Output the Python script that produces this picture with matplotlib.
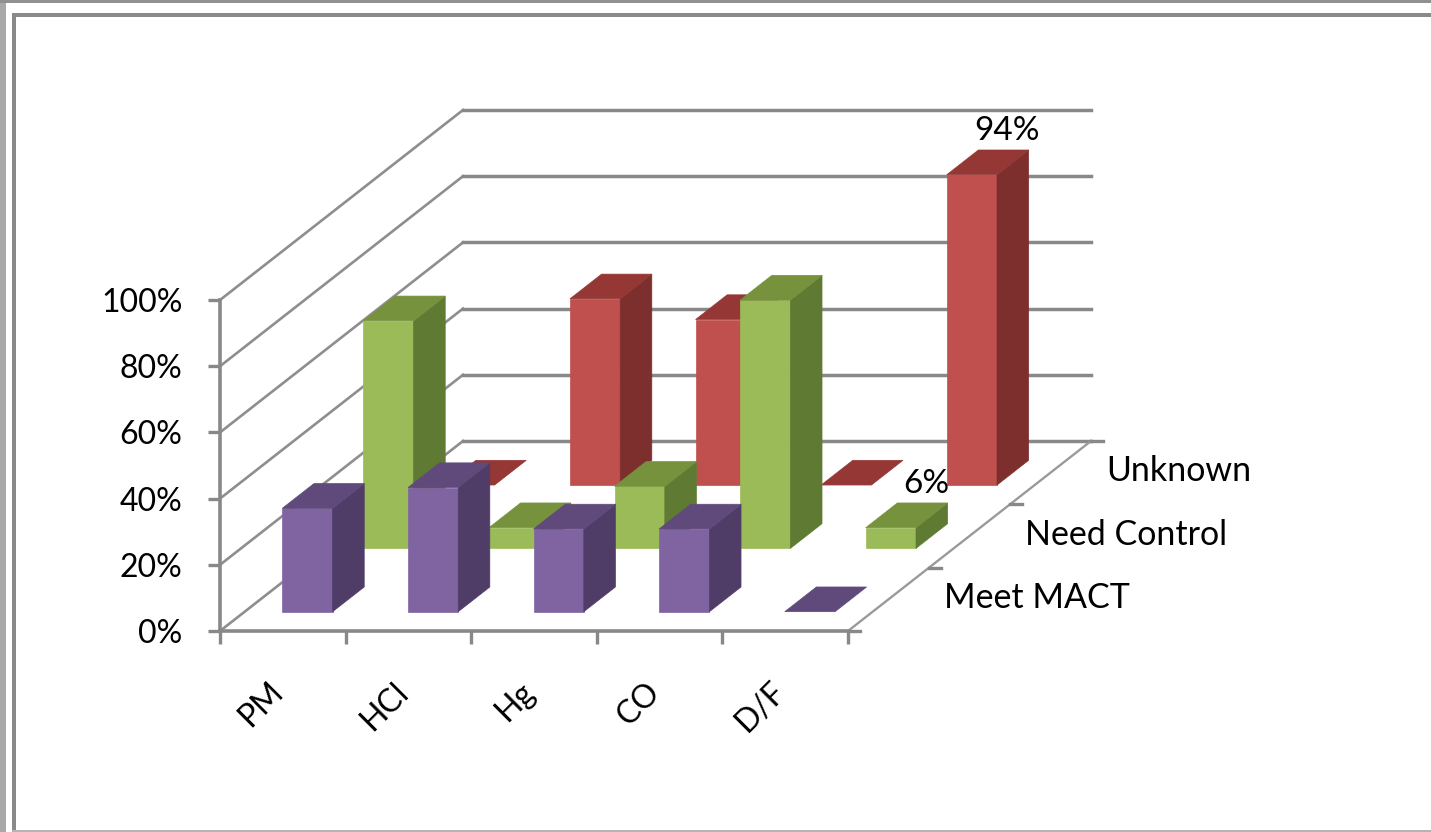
import matplotlib
matplotlib.use('Agg')
import matplotlib.pyplot as plt
import matplotlib.transforms as mtransforms
from matplotlib.patches import Rectangle

plt.rcParams['font.family'] = ['Lato', 'DejaVu Sans']

# data (share of units)
categories = ['PM', 'HCl', 'Hg', 'CO', 'D/F']
series = ['Meet MACT', 'Need Control', 'Unknown']
meet_mact = [31.25, 37.5, 25.0, 25.0, 0.0]
need_control = [68.75, 6.25, 18.75, 75.0, 6.25]
unknown = [0.0, 56.25, 50.0, 0.0, 93.75]
values = [meet_mact, need_control, unknown]
yticks = [0, 20, 40, 60, 80, 100]
# (series index, category index) -> label text
data_labels = {(1, 4): '6%', (2, 4): '94%'}

front_col = ['#8064A2', '#9BBB59', '#C0504D']
top_col = ['#604A7B', '#76923C', '#953735']
side_col = ['#4F3D68', '#5F7A33', '#7D2F2D']
GRID = '#888888'

# oblique projection set-up (pixels of the output image)
W, H = 1431, 832
X0, Y0 = 220, 631
CAT_PX = 125.6      # px per category
PCT_PX = 3.31       # px per percent
DEPTH_X = 243 / CAT_PX
DEPTH_Z = 190 / PCT_PX
BW = 0.4            # bar width (categories)
BD = 0.13           # bar depth (fraction of floor depth)


def proj(x, d, z):
    return x + d * DEPTH_X, z + d * DEPTH_Z


fig = plt.figure(figsize=(W / 100, H / 100), dpi=100)
ax = fig.add_axes([0, 0, 1, 1])
ax.set_xlim(-X0 / CAT_PX, (W - X0) / CAT_PX)
ax.set_ylim(-(H - Y0) / PCT_PX, Y0 / PCT_PX)

for s in ['top', 'right']:
    ax.spines[s].set_visible(False)
ax.spines['left'].set_position(('data', 0))
ax.spines['left'].set_bounds(0, 100)
ax.spines['bottom'].set_position(('data', 0))
ax.spines['bottom'].set_bounds(0, len(categories))
for s in ['left', 'bottom']:
    ax.spines[s].set_color(GRID)
    ax.spines[s].set_linewidth(2.6)

ax.set_yticks(yticks, [f'{v}%' for v in yticks])
ax.tick_params(axis='y', direction='out', length=9, width=2.4, color=GRID,
               pad=18, labelsize=23)
ax.set_xticks(range(len(categories) + 1), [''] * (len(categories) + 1))
ax.set_xticks([i + 0.5 for i in range(len(categories))], categories, minor=True)
ax.tick_params(axis='x', which='major', direction='out', length=9, width=2.4, color=GRID)
ax.tick_params(axis='x', which='minor', length=0, pad=33, labelsize=23)
shift = mtransforms.ScaledTranslation(6 / 100, 0, fig.dpi_scale_trans)
for lbl in ax.get_xticklabels(minor=True):
    lbl.set_rotation(45)
    lbl.set_ha('right')
    lbl.set_va('top')
    lbl.set_transform(lbl.get_transform() + shift)

# walls and floor
ncat = len(categories)
for v in yticks:
    ax.plot([0, DEPTH_X], [v, v + DEPTH_Z], color='#8e8e8e', lw=1.9, zorder=1)
    ax.plot([DEPTH_X, ncat + DEPTH_X], [v + DEPTH_Z] * 2, color=GRID, lw=2.5, zorder=1)
ax.plot([ncat, ncat + DEPTH_X], [0, DEPTH_Z], color='#9a9a9a', lw=1.7, zorder=1)
for k in range(len(series) + 1):
    xd, zd = proj(ncat, k / len(series), 0)
    ax.plot([xd, xd + 12 / CAT_PX], [zd, zd], color=GRID, lw=2.4, zorder=1)

# bars, back row first
for j in reversed(range(len(series))):
    dc = (j + 0.5) / len(series)
    d0, d1 = dc - BD / 2, dc + BD / 2
    for i, h in enumerate(values[j]):
        x0, x1 = i + 0.5 - BW / 2, i + 0.5 + BW / 2
        if h > 0:
            pts = [proj(x0, d0, 0), proj(x1, d0, 0), proj(x1, d0, h), proj(x0, d0, h)]
            ax.fill(*zip(*pts), color=front_col[j], lw=0.5, zorder=3)
            pts = [proj(x1, d0, 0), proj(x1, d1, 0), proj(x1, d1, h), proj(x1, d0, h)]
            ax.fill(*zip(*pts), color=side_col[j], lw=0.5, zorder=3)
        pts = [proj(x0, d0, h), proj(x1, d0, h), proj(x1, d1, h), proj(x0, d1, h)]
        ax.fill(*zip(*pts), color=top_col[j], lw=0.5, zorder=3)
        if (j, i) in data_labels:
            ax.annotate(data_labels[(j, i)], proj(i + 0.5, d1, h), xytext=(2.5, 14),
                        textcoords='offset points', ha='center', va='center',
                        fontsize=24, zorder=4)

# series names along the depth axis
for j, name in enumerate(series):
    ax.annotate(name, proj(ncat, (j + 0.5) / len(series), 0), xytext=(40, 1),
                textcoords='offset points', ha='left', va='center', fontsize=24.5)

# frame around the picture
def px_rect(x, y, w, h, c):
    fig.add_artist(Rectangle((x / W, 1 - (y + h) / H), w / W, h / H,
                             transform=fig.transFigure, color=c, lw=0))

px_rect(0, 0, 6, H, '#a8a8a8')
px_rect(0, 0, W, 3, '#909090')
px_rect(12, 13, 4, H - 13, '#8a8a8a')
px_rect(12, 13, W - 12, 4, '#8a8a8a')
px_rect(12, H - 2, W - 12, 2, '#b4b4b4')

fig.savefig('out.png', dpi=100)
